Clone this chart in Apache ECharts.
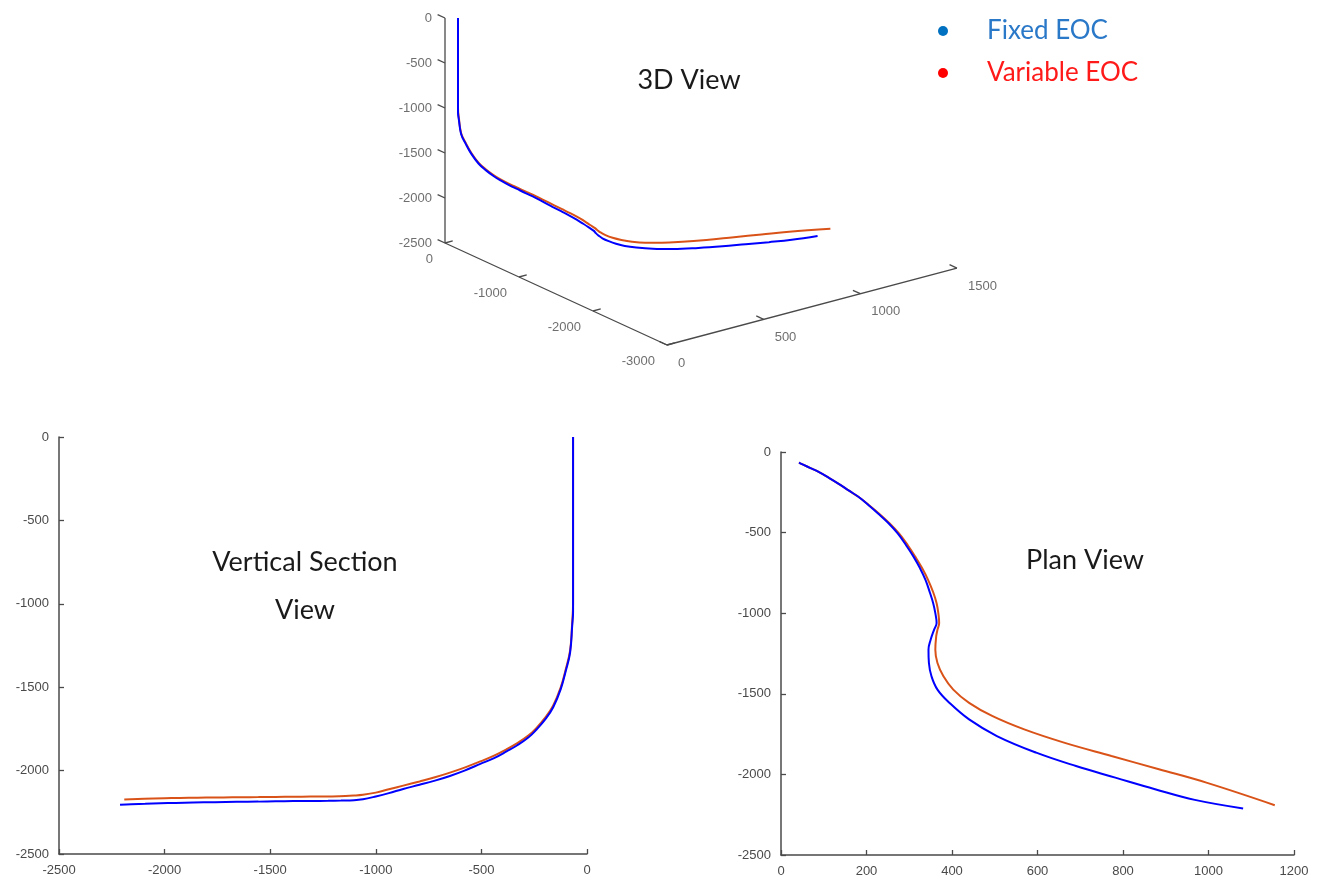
<!DOCTYPE html>
<html><head><meta charset="utf-8">
<script src="https://cdn.jsdelivr.net/npm/echarts@6/dist/echarts.min.js"></script>
<style>html,body{margin:0;padding:0;background:#fff}#c{width:1320px;height:883px}</style>
</head><body><div id="c"></div>
<script>
// ---- data: survey stations (north, east, depth) ----
const fixedNorth = [-66,-66,-70,-80,-100,-124,-160,-196,-240,-278,-330,-381,-440,-505,-580,-649,-720,-793,-870,-938,-1000,-1061,-1103,-1165,-1226,-1309,-1391,-1474,-1556,-1659,-1762,-1865,-1948,-2020,-2092,-2158,-2211];
const fixedEast = [42,42,45,53,69,88,112,134,159,181,205,227,251,273,293,310,325,338,348,356,361,364,358,350,345,346,352,366,394,440,505,597,690,782,875,968,1081];
const fixedDepth = [0,-1050,-1130,-1292,-1400,-1510,-1620,-1690,-1755,-1802,-1848,-1885,-1925,-1960,-2000,-2032,-2060,-2085,-2110,-2135,-2155,-2172,-2178,-2180,-2181,-2182,-2183,-2184,-2186,-2187,-2189,-2191,-2194,-2196,-2199,-2201,-2204];

const variableNorth = [-66,-66,-70,-80,-100,-124,-160,-196,-240,-278,-330,-381,-440,-505,-580,-649,-720,-793,-870,-938,-1000,-1061,-1103,-1144,-1226,-1309,-1391,-1474,-1556,-1639,-1721,-1803,-1886,-1968,-2051,-2191];
const variableEast = [42,42,45,53,69,88,112,134,159,181,206,229,253,276,297,314,330,344,356,364,368,370,366,363,361,366,380,403,440,495,569,662,773,884,995,1155];
const variableDepth = [0,-1000,-1110,-1280,-1390,-1500,-1610,-1680,-1745,-1790,-1835,-1872,-1910,-1945,-1982,-2012,-2040,-2065,-2090,-2112,-2132,-2145,-2150,-2153,-2155,-2156,-2157,-2158,-2159,-2160,-2161,-2162,-2163,-2165,-2167,-2173];

// tick labels
const vsXTicks = [-2500,-2000,-1500,-1000,-500,0];
const vsYTicks = [-2500,-2000,-1500,-1000,-500,0];
const planXTicks = [0,200,400,600,800,1000,1200];
const planYTicks = [-2500,-2000,-1500,-1000,-500,0];
const box3dNorthTicks = [0,-1000,-2000,-3000];
const box3dEastTicks = [0,500,1000,1500];
const box3dDepthTicks = [0,-500,-1000,-1500,-2000,-2500];

const seriesNames = ['Fixed EOC','Variable EOC'];
const titles = ['3D View','Vertical Section\nView','Plan View'];

// ---- styles ----
const BLUE = '#0000FF', ORANGE = '#D95319';
const AXIS = '#4a4a4a', LABEL = '#4a4a4a';
const LABEL_FONT = 'Liberation Sans, Arial, sans-serif';
const TITLE_FONT = 'Lato, Open Sans, sans-serif';

// oblique projection of the 3D box (screen units of the hidden 3D grid)
function proj(n, e, z) {
  return [-0.074 * n + 0.1933 * e, 0.09 * z + 0.034 * n + 0.0513 * e];
}
const nMin = Math.min(...box3dNorthTicks), eMax = Math.max(...box3dEastTicks), zMin = Math.min(...box3dDepthTicks);

function pairs(a, b) { return a.map((v, i) => [v, b[i]]); }
function proj3(n, e, z) { return n.map((v, i) => proj(v, e[i], z[i])); }

const axis2d = (ticks) => ({
  type: 'value', min: ticks[0], max: ticks[ticks.length - 1], interval: ticks[1] - ticks[0],
  axisLine: { show: true, onZero: false, lineStyle: { color: AXIS, width: 1.5 } },
  axisTick: { show: true, inside: true, length: 5, lineStyle: { color: AXIS, width: 1.3 } },
  axisLabel: { color: LABEL, fontSize: 13, fontFamily: LABEL_FONT, margin: 10, formatter: v => String(v) },
  splitLine: { show: false }
});

// 3D box lines and ticks
const boxLine = [proj(0,0,0), proj(0,0,zMin), proj(nMin,0,zMin), proj(nMin,eMax,zMin)];
const tickSegs = [];
box3dDepthTicks.forEach(z => tickSegs.push([proj(0,0,z), proj(100,0,z)]));
box3dNorthTicks.forEach(n => tickSegs.push([proj(n,0,zMin), proj(n,40,zMin)]));
box3dEastTicks.forEach(e => tickSegs.push([proj(nMin,e,zMin), proj(nMin+100,e,zMin)]));

const labelSeries = (pts, texts, align, off) => ({
  type: 'scatter', xAxisIndex: 2, yAxisIndex: 2, silent: true, symbolSize: 0,
  data: pts.map((p, i) => ({ value: p, name: String(texts[i]) })),
  label: { show: true, formatter: p => p.name, position: off, align, verticalAlign: 'middle',
    color: LABEL, fontSize: 13, fontFamily: LABEL_FONT }
});

const lineSeries = (name, color, data, idx) => ({
  name, type: 'line', xAxisIndex: idx, yAxisIndex: idx, data, showSymbol: false, symbol: 'none',
  smooth: 0.4, lineStyle: { color, width: 2 }, itemStyle: { color }, silent: true, z: 3
});

const option = {
  animation: false,
  backgroundColor: '#fff',
  legend: {
    orient: 'vertical', left: 933, top: 12, itemGap: 14, icon: 'circle', itemWidth: 10, itemHeight: 10,
    selectedMode: false,
    textStyle: { fontSize: 26, fontFamily: TITLE_FONT, lineHeight: 28, padding: [0,0,0,34] },
    data: [
      { name: seriesNames[0], itemStyle: { color: '#0070C0' }, textStyle: { color: '#2a78c8' } },
      { name: seriesNames[1], itemStyle: { color: '#FF0000' }, textStyle: { color: '#FF1a1a' } }
    ]
  },
  grid: [
    { left: 59, top: 437, width: 528, height: 417 },
    { left: 781, top: 452, width: 513, height: 403 },
    { left: 300, top: 0, width: 700, height: 420 }
  ],
  xAxis: [
    Object.assign(axis2d(vsXTicks), { gridIndex: 0 }),
    Object.assign(axis2d(planXTicks), { gridIndex: 1 }),
    { gridIndex: 2, type: 'value', min: -145, max: 555, show: false }
  ],
  yAxis: [
    Object.assign(axis2d(vsYTicks), { gridIndex: 0 }),
    Object.assign(axis2d(planYTicks), { gridIndex: 1 }),
    { gridIndex: 2, type: 'value', min: -402, max: 18, show: false }
  ],
  graphic: [
    { type: 'text', x: 689, y: 80, style: { text: titles[0], fill: '#1a1a1a', fontSize: 27, fontFamily: TITLE_FONT, align: 'center', verticalAlign: 'middle' } },
    { type: 'text', x: 305, y: 586, style: { text: titles[1], fill: '#1a1a1a', fontSize: 27, fontFamily: TITLE_FONT, lineHeight: 48, align: 'center', verticalAlign: 'middle' } },
    { type: 'text', x: 1085, y: 560, style: { text: titles[2], fill: '#1a1a1a', fontSize: 27, fontFamily: TITLE_FONT, align: 'center', verticalAlign: 'middle' } }
  ],
  series: [
    // 3D box
    { type: 'line', xAxisIndex: 2, yAxisIndex: 2, data: boxLine, symbol: 'none', silent: true,
      lineStyle: { color: AXIS, width: 1.3 } },
    { type: 'custom', xAxisIndex: 2, yAxisIndex: 2, silent: true, data: tickSegs.map(s => [s[0][0], s[0][1], s[1][0], s[1][1]]),
      renderItem: (params, api) => {
        const a = api.coord([api.value(0), api.value(1)]);
        const b = api.coord([api.value(2), api.value(3)]);
        return { type: 'line', shape: { x1: a[0], y1: a[1], x2: b[0], y2: b[1] }, style: { stroke: AXIS, lineWidth: 1.3 } };
      } },
    labelSeries(box3dDepthTicks.map(z => proj(0,0,z)), box3dDepthTicks, 'right', [-13, 0]),
    labelSeries(box3dNorthTicks.map(n => proj(n,0,zMin)), box3dNorthTicks, 'right', [-12, 16]),
    labelSeries(box3dEastTicks.map(e => proj(nMin,e,zMin)), box3dEastTicks, 'left', [11, 18]),
    // trajectories
    lineSeries(seriesNames[1], ORANGE, proj3(variableNorth, variableEast, variableDepth), 2),
    lineSeries(seriesNames[0], BLUE, proj3(fixedNorth, fixedEast, fixedDepth), 2),
    lineSeries(seriesNames[1], ORANGE, pairs(variableNorth, variableDepth), 0),
    lineSeries(seriesNames[0], BLUE, pairs(fixedNorth, fixedDepth), 0),
    lineSeries(seriesNames[1], ORANGE, pairs(variableEast, variableNorth), 1),
    lineSeries(seriesNames[0], BLUE, pairs(fixedEast, fixedNorth), 1)
  ]
};

const chart = echarts.init(document.getElementById('c'), null, { renderer: 'canvas' });
chart.setOption(option);
</script>
</body></html>
